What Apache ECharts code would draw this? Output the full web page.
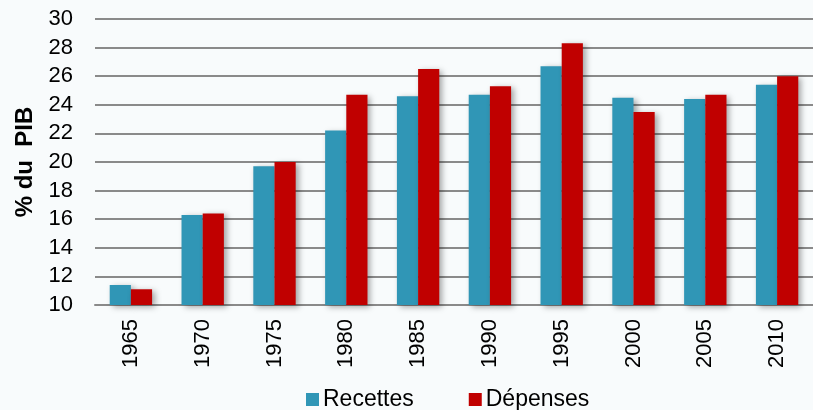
<!DOCTYPE html>
<html>
<head>
<meta charset="utf-8">
<script src="https://cdn.jsdelivr.net/npm/echarts@6/dist/echarts.min.js"></script>
<style>
  html, body { margin: 0; padding: 0; background: #f8fbfc; }
  #chart { width: 813px; height: 410px; }
</style>
</head>
<body>
<div id="chart"></div>
<script>
// Recettes et dépenses publiques, en % du PIB
const years = ['1965', '1970', '1975', '1980', '1985', '1990', '1995', '2000', '2005', '2010'];
const recettes = [11.4, 16.3, 19.7, 22.2, 24.6, 24.7, 26.7, 24.5, 24.4, 25.4];
const depenses = [11.1, 16.4, 20.0, 24.7, 26.5, 25.3, 28.3, 23.5, 24.7, 26.0];
const yMin = 10, yMax = 30, yStep = 2;

const font = '"Liberation Sans", Arial, sans-serif';
const barShadow = {
  shadowColor: 'rgba(0,0,0,0.35)',
  shadowBlur: 6,
  shadowOffsetX: 3,
  shadowOffsetY: 2
};

const chart = echarts.init(document.getElementById('chart'), null, { renderer: 'canvas' });
chart.setOption({
  backgroundColor: '#f8fbfc',
  animation: false,
  textStyle: { fontFamily: font, color: '#000' },
  grid: { left: 95, right: 0, top: 19, bottom: 105 },
  legend: {
    top: 383,
    left: 301,
    itemWidth: 13,
    itemHeight: 13,
    itemGap: 55,
    icon: 'rect',
    textStyle: { fontFamily: font, fontSize: 23, color: '#000', padding: [0, 0, 0, -1] },
    data: ['Recettes', 'Dépenses']
  },
  xAxis: {
    type: 'category',
    data: years,
    axisLine: { show: true, lineStyle: { color: '#8a8a8a', width: 2 } },
    axisTick: { show: false },
    axisLabel: { rotate: 90, margin: 14, fontSize: 22, color: '#000', fontFamily: font }
  },
  yAxis: {
    type: 'value',
    min: yMin,
    max: yMax,
    interval: yStep,
    name: '% du  PIB',
    nameLocation: 'middle',
    nameGap: 57,
    nameRotate: 90,
    nameTextStyle: { fontSize: 24, fontWeight: 'bold', color: '#000', fontFamily: font },
    axisLine: { show: false },
    axisTick: { show: false },
    axisLabel: { margin: 22, fontSize: 22, color: '#000', fontFamily: font },
    splitLine: { lineStyle: { color: '#8a8a8a', width: 2 } }
  },
  series: [
    {
      name: 'Recettes',
      type: 'bar',
      data: recettes,
      barGap: '0%',
      barCategoryGap: '41%',
      itemStyle: Object.assign({ color: '#3096b6' }, barShadow)
    },
    {
      name: 'Dépenses',
      type: 'bar',
      data: depenses,
      barGap: '0%',
      barCategoryGap: '41%',
      itemStyle: Object.assign({ color: '#c00000' }, barShadow)
    }
  ]
});
</script>
</body>
</html>
